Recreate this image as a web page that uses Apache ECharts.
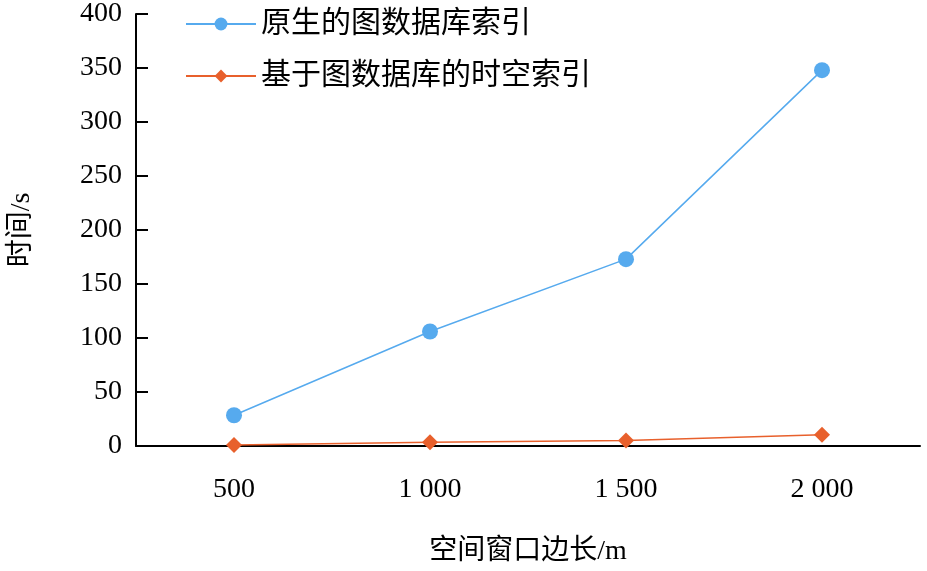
<!DOCTYPE html><html><head><meta charset="utf-8"><script src="https://cdn.jsdelivr.net/npm/echarts@6/dist/echarts.min.js"></script></head><body style="margin:0"><div id="c" style="width:927px;height:571px"></div><script>
const categories=['500','1 000','1 500','2 000'];
const nativeIdx=[28.5,106,173,348];
const stIdx=[1,3.5,5,10.5];
const F='"Liberation Serif","Noto Sans CJK SC",serif';
const ch=echarts.init(document.getElementById('c'));
ch.setOption({animation:false,
grid:{left:129,right:7,top:12,bottom:114},
legend:{left:180,top:4,orient:'vertical',itemGap:22,itemWidth:70,itemHeight:16,textStyle:{fontFamily:F,fontSize:30,color:'#000'},data:['原生的图数据库索引','基于图数据库的时空索引']},
xAxis:{type:'category',data:categories,name:'空间窗口边长/m',nameLocation:'middle',nameGap:92,nameTextStyle:{fontFamily:F,fontSize:28,color:'#000'},
axisLine:{lineStyle:{color:'#000',width:2}},axisTick:{inside:true,length:12,lineStyle:{color:'#000',width:2}},axisLabel:{fontFamily:F,fontSize:28,color:'#000',margin:30}},
yAxis:{type:'value',min:0,max:400,interval:50,name:'时间/s',nameLocation:'middle',nameGap:100,nameTextStyle:{fontFamily:F,fontSize:28,color:'#000'},
axisLine:{show:true,lineStyle:{color:'#000',width:2}},axisTick:{show:true,inside:true,length:12,lineStyle:{color:'#000',width:2}},splitLine:{show:false},axisLabel:{fontFamily:F,fontSize:28,color:'#000',margin:14}},
series:[{name:'原生的图数据库索引',type:'line',data:nativeIdx,symbol:'circle',symbolSize:16,itemStyle:{color:'#56aaee'},lineStyle:{width:1.5,color:'#56aaee'}},
{name:'基于图数据库的时空索引',type:'line',data:stIdx,symbol:'diamond',symbolSize:16,itemStyle:{color:'#e8602c'},lineStyle:{width:1.5,color:'#e8602c'}}]});
</script></body></html>
